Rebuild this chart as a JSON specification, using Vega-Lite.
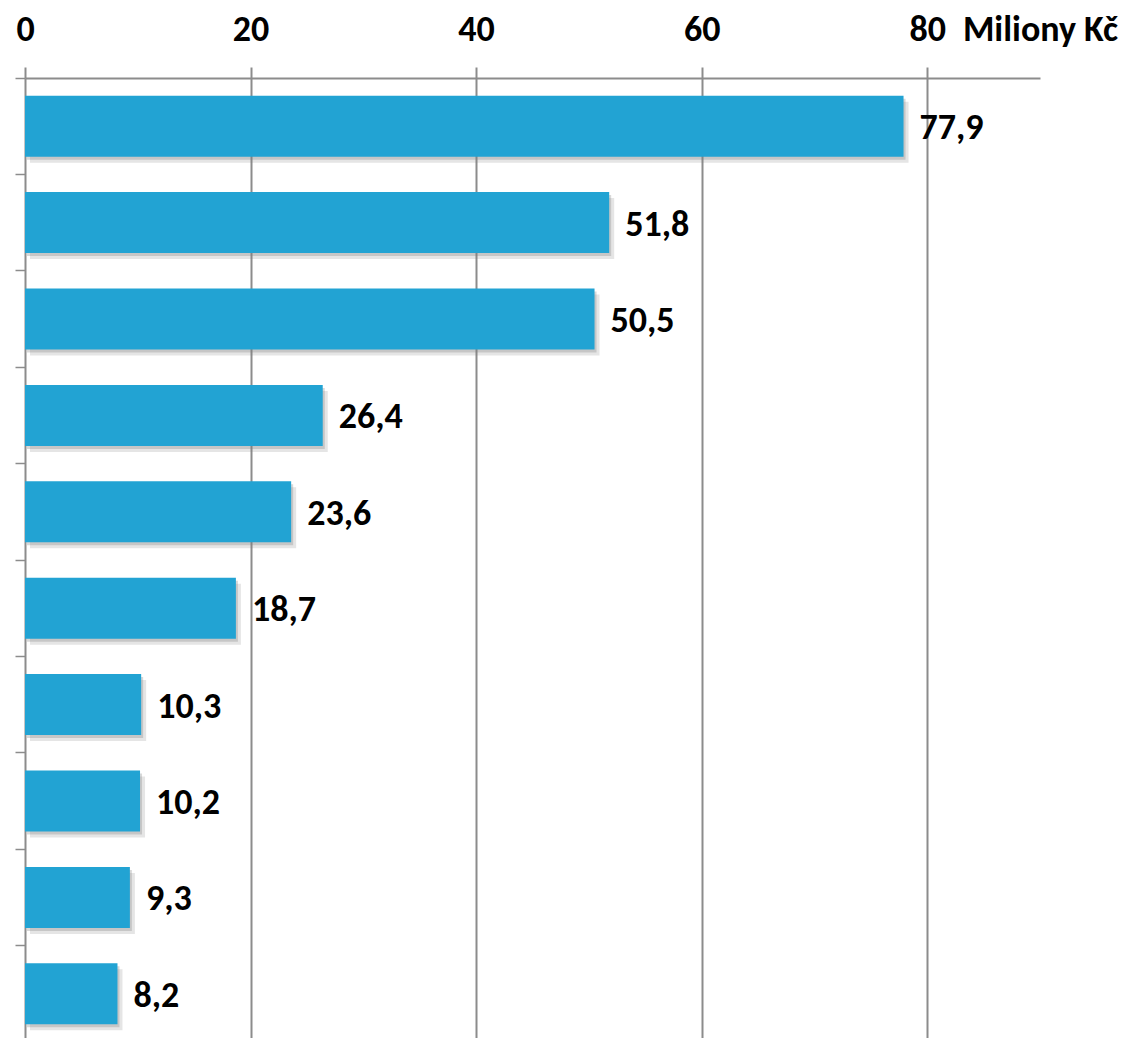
{
  "$schema": "https://vega.github.io/schema/vega-lite/v6.json",
  "autosize": "none",
  "padding": {"left": 25, "top": 78, "right": 88, "bottom": 0},
  "width": 1015,
  "height": 964,
  "background": "white",
  "data": {
    "values": [
      {"polozka": "P1", "hodnota": 77.9},
      {"polozka": "P2", "hodnota": 51.8},
      {"polozka": "P3", "hodnota": 50.5},
      {"polozka": "P4", "hodnota": 26.4},
      {"polozka": "P5", "hodnota": 23.6},
      {"polozka": "P6", "hodnota": 18.7},
      {"polozka": "P7", "hodnota": 10.3},
      {"polozka": "P8", "hodnota": 10.2},
      {"polozka": "P9", "hodnota": 9.3},
      {"polozka": "P10", "hodnota": 8.2}
    ]
  },
  "encoding": {
    "y": {
      "field": "polozka",
      "type": "nominal",
      "sort": {"field": "hodnota", "order": "descending"},
      "scale": {"paddingInner": 0, "paddingOuter": 0},
      "axis": {
        "title": null,
        "labels": false,
        "bandPosition": 0,
        "ticks": true,
        "tickSize": 10,
        "tickColor": "#8c8c8c",
        "tickWidth": 1.5,
        "domainColor": "#8c8c8c",
        "domainWidth": 2,
        "grid": false
      }
    },
    "x": {
      "field": "hodnota",
      "type": "quantitative",
      "scale": {"domain": [0, 90], "nice": false},
      "axis": {
        "orient": "top",
        "title": null,
        "values": [0, 20, 40, 60, 80, 90],
        "labelExpr": "datum.value == 90 ? 'Miliony Kč' : datum.label",
        "labelFont": "Carlito, Lato, sans-serif",
        "labelFontSize": 36,
        "labelFontWeight": "bold",
        "labelColor": "black",
        "labelPadding": 19,
        "labelFlush": false,
        "labelOverlap": false,
        "tickSize": 11,
        "tickColor": "#8c8c8c",
        "tickWidth": 2,
        "tickOpacity": {"condition": {"test": "datum.value == 90", "value": 0}, "value": 1},
        "domainColor": "#8c8c8c",
        "domainWidth": 2,
        "grid": true,
        "gridColor": "#8c8c8c",
        "gridWidth": 2,
        "gridOpacity": {"condition": {"test": "datum.value == 90 || datum.value == 0", "value": 0}, "value": 1}
      }
    }
  },
  "layer": [
    {
      "mark": {"type": "bar", "height": {"band": 0.633}, "color": "#7f7f7f", "opacity": 0.2, "xOffset": 5, "yOffset": 6},
      "encoding": {}
    },
    {
      "mark": {"type": "bar", "height": {"band": 0.633}, "color": "#7f7f7f", "opacity": 0.3, "xOffset": 2, "yOffset": 3},
      "encoding": {}
    },
    {
      "mark": {"type": "bar", "height": {"band": 0.633}, "color": "#22a3d3"},
      "encoding": {}
    },
    {
      "mark": {"type": "text", "align": "left", "baseline": "middle", "dx": 16, "dy": 2, "font": "Carlito, Lato, sans-serif", "fontSize": 36, "fontWeight": "bold", "color": "black"},
      "encoding": {
        "text": {"field": "hodnota", "type": "quantitative", "format": ".1f"}
      }
    }
  ],
  "config": {
    "locale": {"number": {"decimal": ",", "thousands": " ", "grouping": [3], "currency": ["", " Kč"]}},
    "view": {"stroke": null}
  }
}
